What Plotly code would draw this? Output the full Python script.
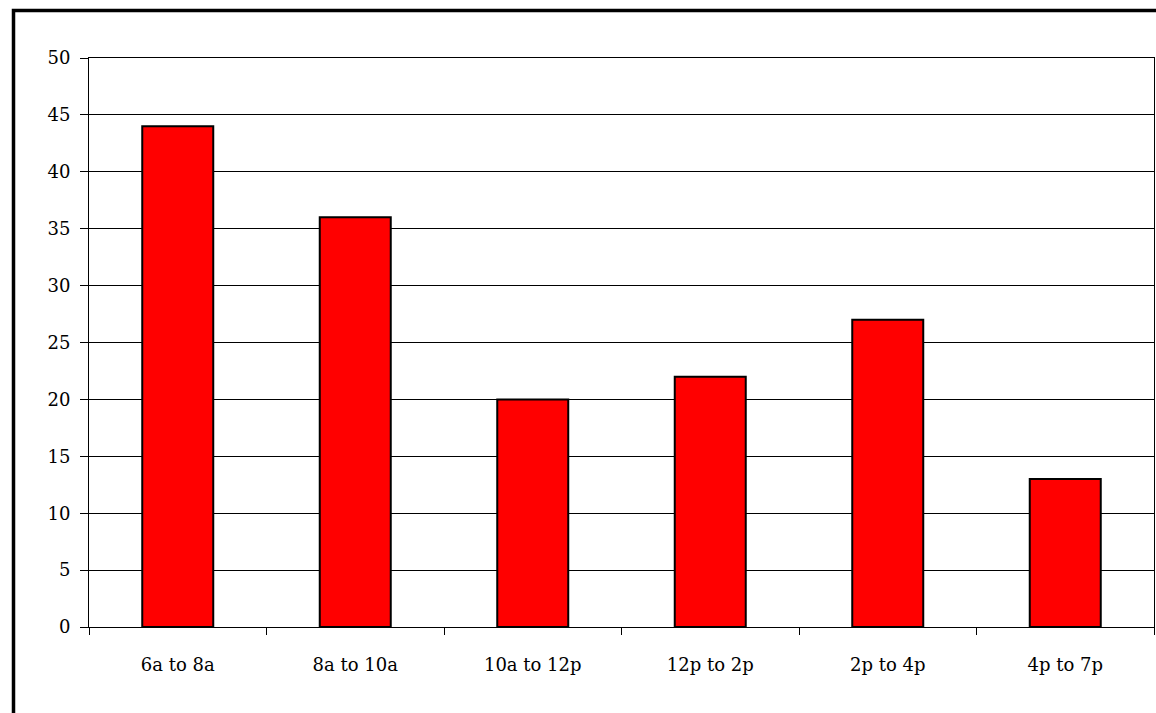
import plotly.graph_objects as go

# Time windows and counts per window
categories = ["6a to 8a", "8a to 10a", "10a to 12p", "12p to 2p", "2p to 4p", "4p to 7p"]
counts = [44, 36, 20, 22, 27, 13]
y_ticks = [0, 5, 10, 15, 20, 25, 30, 35, 40, 45, 50]

W, H = 1156, 713
ML, MR, MT, MB = 89, 2, 58, 86
pw = W - ML - MR
ph = H - MT - MB

def px_x(p):
    return (p - ML) / pw

def px_y(p):
    return (H - MB - p) / ph

fig = go.Figure(
    go.Bar(
        x=categories,
        y=counts,
        marker=dict(color="#ff0000", line=dict(color="black", width=2)),
    )
)

font = dict(family="DejaVu Serif", size=18, color="black")

fig.update_layout(
    width=W,
    height=H,
    margin=dict(l=ML, r=MR, t=MT, b=MB, pad=0),
    paper_bgcolor="white",
    plot_bgcolor="white",
    bargap=0.6,
    showlegend=False,
    font=font,
    xaxis=dict(
        type="category",
        showline=True,
        linecolor="black",
        linewidth=1,
        mirror=True,
        ticks="outside",
        tickson="boundaries",
        ticklen=7,
        tickcolor="black",
        showgrid=False,
        tickfont=font,
        ticklabelstandoff=21,
    ),
    yaxis=dict(
        range=[0, 50],
        tickvals=y_ticks,
        showline=True,
        linecolor="black",
        linewidth=1,
        mirror=True,
        ticks="outside",
        ticklen=8,
        tickcolor="black",
        showgrid=True,
        gridcolor="black",
        gridwidth=1,
        zeroline=False,
        tickfont=font,
        ticklabelstandoff=6,
    ),
    shapes=[
        dict(
            type="rect",
            xref="paper",
            yref="paper",
            x0=px_x(13.5),
            x1=px_x(W + 10),
            y0=px_y(H + 10),
            y1=px_y(10.5),
            line=dict(color="black", width=3.5),
            fillcolor="rgba(0,0,0,0)",
            layer="above",
        )
    ],
)

fig.write_html("out.html")
